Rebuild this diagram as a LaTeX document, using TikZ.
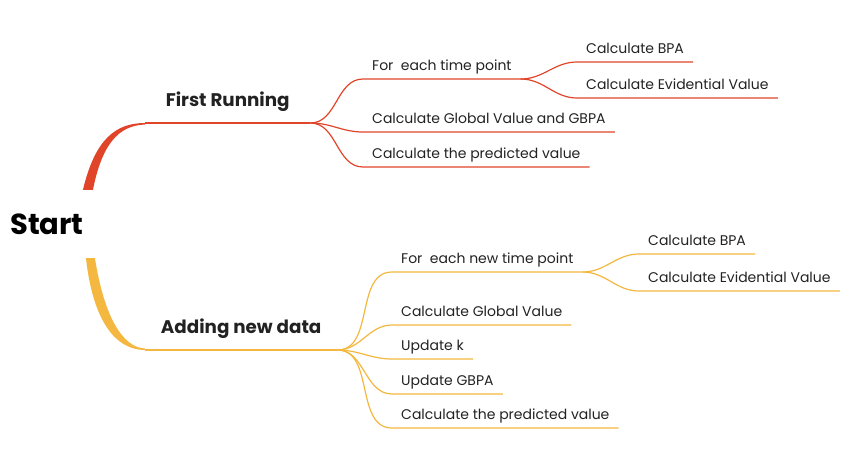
\documentclass[tikz,border=0pt]{standalone}
\usepackage{fontspec}
\setmainfont{Poppins}
\usetikzlibrary{calc}

\definecolor{mmred}{HTML}{E0452A}
\definecolor{mmyellow}{HTML}{F4B73F}
\definecolor{mmtext}{HTML}{222222}

\begin{document}
\begin{tikzpicture}[x=1pt, y=-1pt,
  leaf/.style={anchor=south west, inner xsep=9pt, inner ysep=8pt, text depth=0pt, text=mmtext, font=\fontsize{14}{16}\selectfont},
  branchlabel/.style={anchor=south west, inner ysep=16pt, text depth=0pt, text=mmtext, font=\fontsize{18.3}{21}\selectfont\bfseries},
  redline/.style={draw=mmred, line width=1.2pt},
  yellowline/.style={draw=mmyellow, line width=1.2pt}]

\useasboundingbox (0,0) rectangle (852,448);

\node[text=black, font=\fontsize{29}{32}\selectfont\bfseries, minimum height=68pt, inner xsep=4pt] (start) at (47,224) {Start};

% first running
\node[branchlabel, minimum width=165pt] (first) at (145,123) {First Running};

\node[leaf] (each1) at (363,79) {For\ \ each time point};
\node[leaf] (bpa1) at (577,62) {Calculate BPA};
\node[leaf] (evid1) at (577,98) {Calculate Evidential Value};
\node[leaf] (global1) at (363,132) {Calculate Global Value and GBPA};
\node[leaf] (pred1) at (363,167) {Calculate the predicted value};

\fill[mmred] ($(start.north east)+(-5,0)$) .. controls +(12,-50) and +(-30,0) .. (first.south west) -- ++(0,1.5) .. controls +(-27,1) and +(9,-45) .. ($(start.north east)+(5,0)$) -- cycle;
\draw[redline] (first.south west) -- (first.south east);

\foreach \n in {each1, global1, pred1}
  \draw[redline] (first.south east) to[out=0, in=180] (\n.south west) -- (\n.south east);
\foreach \n in {bpa1, evid1}
  \draw[redline] (each1.south east) to[out=0, in=180] (\n.south west) -- (\n.south east);

% adding new data
\node[branchlabel, minimum width=192pt] (add) at (145,350) {Adding new data};

\node[leaf] (each2) at (392,272) {For\ \ each new time point};
\node[leaf] (bpa2) at (639,254) {Calculate BPA};
\node[leaf] (evid2) at (639,291) {Calculate Evidential Value};
\node[leaf] (global2) at (392,325) {Calculate Global Value};
\node[leaf] (k) at (392,359) {Update k};
\node[leaf] (gbpa) at (392,394) {Update GBPA};
\node[leaf] (pred2) at (392,428) {Calculate the predicted value};

\fill[mmyellow] ($(start.south east)+(-2,0)$) .. controls +(7,62) and +(-30,0) .. (add.south west) -- ++(0,-1.5) .. controls +(-23,-1) and +(9,57) .. ($(start.south east)+(7,0)$) -- cycle;
\draw[yellowline] (add.south west) -- (add.south east);

\foreach \n in {each2, global2, k, gbpa, pred2}
  \draw[yellowline] (add.south east) to[out=0, in=180] (\n.south west) -- (\n.south east);
\foreach \n in {bpa2, evid2}
  \draw[yellowline] (each2.south east) to[out=0, in=180] (\n.south west) -- (\n.south east);

\end{tikzpicture}
\end{document}
